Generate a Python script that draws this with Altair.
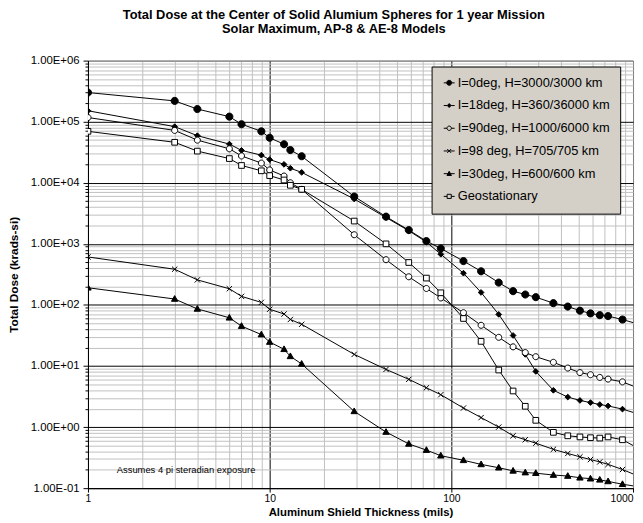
import altair as alt
import pandas as pd

# ---------------- data ----------------
thickness = [1, 3, 4, 6, 7, 9, 10, 12, 13, 15, 29.2, 43.7, 58.3, 72.9, 87.5,
             116.6, 145.8, 182.3, 218.7, 255.2, 291.6, 364.5, 437.4, 510.3,
             583.2, 656.1, 729, 874.8, 1000]

series_names = [
    "I=0deg, H=3000/3000 km",
    "I=18deg, H=360/36000 km",
    "I=90deg, H=1000/6000 km",
    "I=98 deg, H=705/705 km",
    "I=30deg, H=600/600 km",
    "Geostationary",
]

s_0deg = [3.0e5, 2.19e5, 1.61e5, 1.21e5, 9.1e4, 6.95e4, 5.45e4, 4.27e4, 3.43e4, 2.72e4,
          5.96e3, 2.79e3, 1.68e3, 1.11e3, 841, 522, 355, 232, 168, 148, 134, 107, 94,
          80.5, 72.7, 68, 65.6, 57.6, 51.4]
s_18deg = [1.51e5, 8.3e4, 5.9e4, 4.3e4, 3.39e4, 2.83e4, 2.4e4, 2.0e4, 1.73e4, 1.48e4,
           5.43e3, 2.7e3, 1.64e3, 1.07e3, 676, 331, 160, 70, 31.6, 15.5, 8.15, 4.0, 3.1,
           2.73, 2.52, 2.34, 2.22, 1.97, 1.74]
s_90deg = [1.17e5, 7.2e4, 4.99e4, 3.6e4, 2.75e4, 2.1e4, 1.62e4, 1.29e4, 1.0e4, 7.8e3,
           1.41e3, 550, 289, 186, 130, 74.6, 46.4, 29.5, 20.6, 16.6, 14.2, 11.5, 9.25,
           7.8, 7.2, 6.5, 6.1, 5.5, 4.7]
s_98deg = [610, 384, 257, 184, 138, 110, 85, 71, 57.8, 48.2, 15.5, 8.8, 6.05, 4.4, 3.39,
           2.05, 1.43, 1.0, 0.72, 0.62, 0.545, 0.432, 0.37, 0.326, 0.294, 0.269, 0.245,
           0.202, 0.171]
s_30deg = [191, 125, 86, 61.6, 45, 32.7, 24.7, 18.8, 14.4, 10.8, 1.81, 0.83, 0.53, 0.42,
           0.34, 0.286, 0.245, 0.216, 0.192, 0.18, 0.176, 0.164, 0.158, 0.148, 0.143,
           0.137, 0.129, 0.116, 0.109]
s_geo = [6.95e4, 4.6e4, 3.3e4, 2.49e4, 1.92e4, 1.57e4, 1.31e4, 1.11e4, 9.1e3, 7.8e3,
         2.36e3, 1.0e3, 495, 275, 158, 60, 25.3, 8.6, 3.9, 2.19, 1.29, 0.82, 0.72, 0.69,
         0.67, 0.66, 0.69, 0.62, 0.50]

x_major = [1, 10, 100, 1000]
y_major = [0.1, 1, 10, 100, 1000, 1e4, 1e5, 1e6]
x_minor = [k * 10 ** e for e in range(0, 3) for k in range(2, 10)]
y_minor = [k * 10.0 ** e for e in range(-1, 6) for k in range(2, 10)]

title_lines = ["Total Dose at the Center of Solid Alumium Spheres for 1 year Mission",
               "Solar Maximum, AP-8 & AE-8 Models"]
note_text = ["Assumes 4 pi steradian exposure"]

# ---------------- table ----------------
rows = []
for name, vals in zip(series_names, [s_0deg, s_18deg, s_90deg, s_98deg, s_30deg, s_geo]):
    for i, (t, v) in enumerate(zip(thickness, vals)):
        rows.append({"series": name, "order": i, "x": t, "y": v, "marker": t < 1000})
df = pd.DataFrame(rows)

FONT = "Liberation Sans"

xscale = alt.Scale(type="log", domain=[1, 1000], nice=False)
yscale = alt.Scale(type="log", domain=[0.1, 1e6], nice=False)

# marker shapes in the plot (unit box -1..1)
plot_paths = [
    "M1,0A1,1 0 1,1 -1,0A1,1 0 1,1 1,0Z",
    "M0,-0.8L0.8,0L0,0.8L-0.8,0Z",
    "M0.85,0A0.85,0.85 0 1,1 -0.85,0A0.85,0.85 0 1,1 0.85,0Z",
    "M-0.75,-0.75L0.75,0.75M-0.75,0.75L0.75,-0.75",
    "M0,-0.95L0.9,0.65L-0.9,0.65Z",
    "M-0.8,-0.8H0.8V0.8H-0.8Z",
]
plot_fills = ["black", "black", "white", "black", "black", "white"]

# legend symbols: short line with the marker on it (unit = 6 px)
legend_paths = [
    "M-0.7,0H-0.2M0.64,0H1.14M0.64,0A0.42,0.42 0 1,1 -0.2,0A0.42,0.42 0 1,1 0.64,0Z",
    "M-0.7,0H-0.11M0.55,0H1.14M0.22,-0.33L0.55,0L0.22,0.33L-0.11,0Z",
    "M-0.7,0H-0.15M0.59,0H1.14M0.59,0A0.37,0.37 0 1,1 -0.15,0A0.37,0.37 0 1,1 0.59,0Z",
    "M-0.7,0H1.14M-0.11,-0.33L0.55,0.33M-0.11,0.33L0.55,-0.33",
    "M-0.7,0H1.14M0.22,-0.4L0.6,0.3L-0.16,0.3Z",
    "M-0.7,0H-0.13M0.57,0H1.14M-0.13,-0.35H0.57V0.35H-0.13Z",
]
LEG_BG = "#d4d0c8"
legend_fills = ["black", "black", LEG_BG, "black", "black", LEG_BG]
legend_strokes = ["black"] * 6

ylabel_expr = ("'1.00E' + (datum.value < 1 ? '-' : '+') + "
               "(abs(round(log(datum.value)/LN10)) < 10 ? '0' : '') + "
               "abs(round(log(datum.value)/LN10))")

# ---------------- layers ----------------
lines = alt.Chart(df).mark_line(color="black", strokeWidth=1, clip=True).encode(
    x=alt.X("x:Q", scale=xscale,
            axis=alt.Axis(orient="bottom", values=x_minor, grid=True, gridColor="#c0c0c0",
                          gridWidth=1, labels=False, ticks=False, domain=False, title=None)),
    y=alt.Y("y:Q", scale=yscale,
            axis=alt.Axis(orient="left", values=y_minor, grid=True, gridColor="#c0c0c0",
                          gridWidth=1, labels=False, ticks=True, tickSize=3,
                          tickColor="black", domain=False, title=None)),
    detail="series:N",
    order="order:Q",
)

points = alt.Chart(df).transform_filter("datum.marker").mark_point(
    filled=True, opacity=1, stroke="black", strokeWidth=1, size=52, clip=True
).encode(
    x=alt.X("x:Q", scale=xscale,
            axis=alt.Axis(orient="bottom", values=x_major, format="d", grid=True,
                          gridColor={"condition": {"test": "datum.value >= 1000", "value": "#808080"},
                                     "value": "black"},
                          labelAlign={"condition": {"test": "datum.value >= 1000", "value": "right"},
                                      "value": "center"},
                          gridWidth=1, domain=True, domainColor="black", ticks=True, tickSize=4,
                          tickColor="black", labelFont=FONT, labelFontSize=10.5,
                          labelColor="black", labelPadding=2,
                          title="Aluminum Shield Thickness (mils)", titleFont=FONT,
                          titleFontSize=11.5, titleFontWeight="bold", titleColor="black",
                          titleY=25, titleBaseline="middle")),
    y=alt.Y("y:Q", scale=yscale,
            axis=alt.Axis(orient="left", values=y_major, labelExpr=ylabel_expr, grid=True,
                          gridColor={"condition": {"test": "datum.value >= 1000000", "value": "#808080"},
                                     "value": "black"},
                          gridWidth=1, domain=True, domainColor="black", ticks=True, tickSize=5,
                          tickColor="black", labelFont=FONT, labelFontSize=11.5,
                          labelColor="black", labelPadding=4,
                          title="Total Dose (krads-si)", titleFont=FONT, titleFontSize=12,
                          titleFontWeight="bold", titleColor="black", titleX=-75,
                          titleBaseline="middle")),
    shape=alt.Shape("series:N", scale=alt.Scale(domain=series_names, range=plot_paths), legend=None),
    fill=alt.Fill("series:N", scale=alt.Scale(domain=series_names, range=plot_fills), legend=None),
)

leg = alt.Legend(orient="none", legendX=348, legendY=6, title=None, fillColor=LEG_BG,
                 strokeColor="black", padding=10, labelFont=FONT, labelFontSize=13,
                 labelColor="black", labelLimit=0, symbolSize=144, symbolStrokeColor="black",
                 symbolStrokeWidth=1, rowPadding=9, labelOffset=3.5)

legend_layer = alt.Chart(df).transform_filter("false").mark_point(
    filled=True, opacity=1, stroke="black", strokeWidth=1
).encode(
    shape=alt.Shape("series:N", scale=alt.Scale(domain=series_names, range=legend_paths), legend=leg),
    fill=alt.Fill("series:N", scale=alt.Scale(domain=series_names, range=legend_fills), legend=leg),
    stroke=alt.Stroke("series:N", scale=alt.Scale(domain=series_names, range=legend_strokes), legend=leg),
)

note = alt.Chart(pd.DataFrame({"t": note_text})).mark_text(
    align="left", baseline="middle", font=FONT, fontSize=9.5, color="black"
).encode(
    x=alt.X(datum=1.44, scale=xscale, axis=None),
    y=alt.Y(datum=0.195, scale=yscale, axis=None),
    text="t:N",
)

chart = alt.layer(lines, points, note, legend_layer).resolve_axis(
    x="independent", y="independent"
).resolve_scale(
    shape="independent", fill="independent", stroke="independent"
).properties(
    width=552,
    height=433,
    title=alt.Title(text=title_lines, font=FONT, fontSize=13, fontWeight="bold",
                    color="black", anchor="middle", dx=-27, offset=19, lineHeight=14),
    autosize=alt.AutoSizeParams(type="none"),
    padding={"left": 81, "top": 50, "right": 2, "bottom": 32},
    background="white",
).configure_view(stroke="#808080", strokeWidth=1)

chart.save("out.html", embed_options={"renderer": "svg", "actions": False})
